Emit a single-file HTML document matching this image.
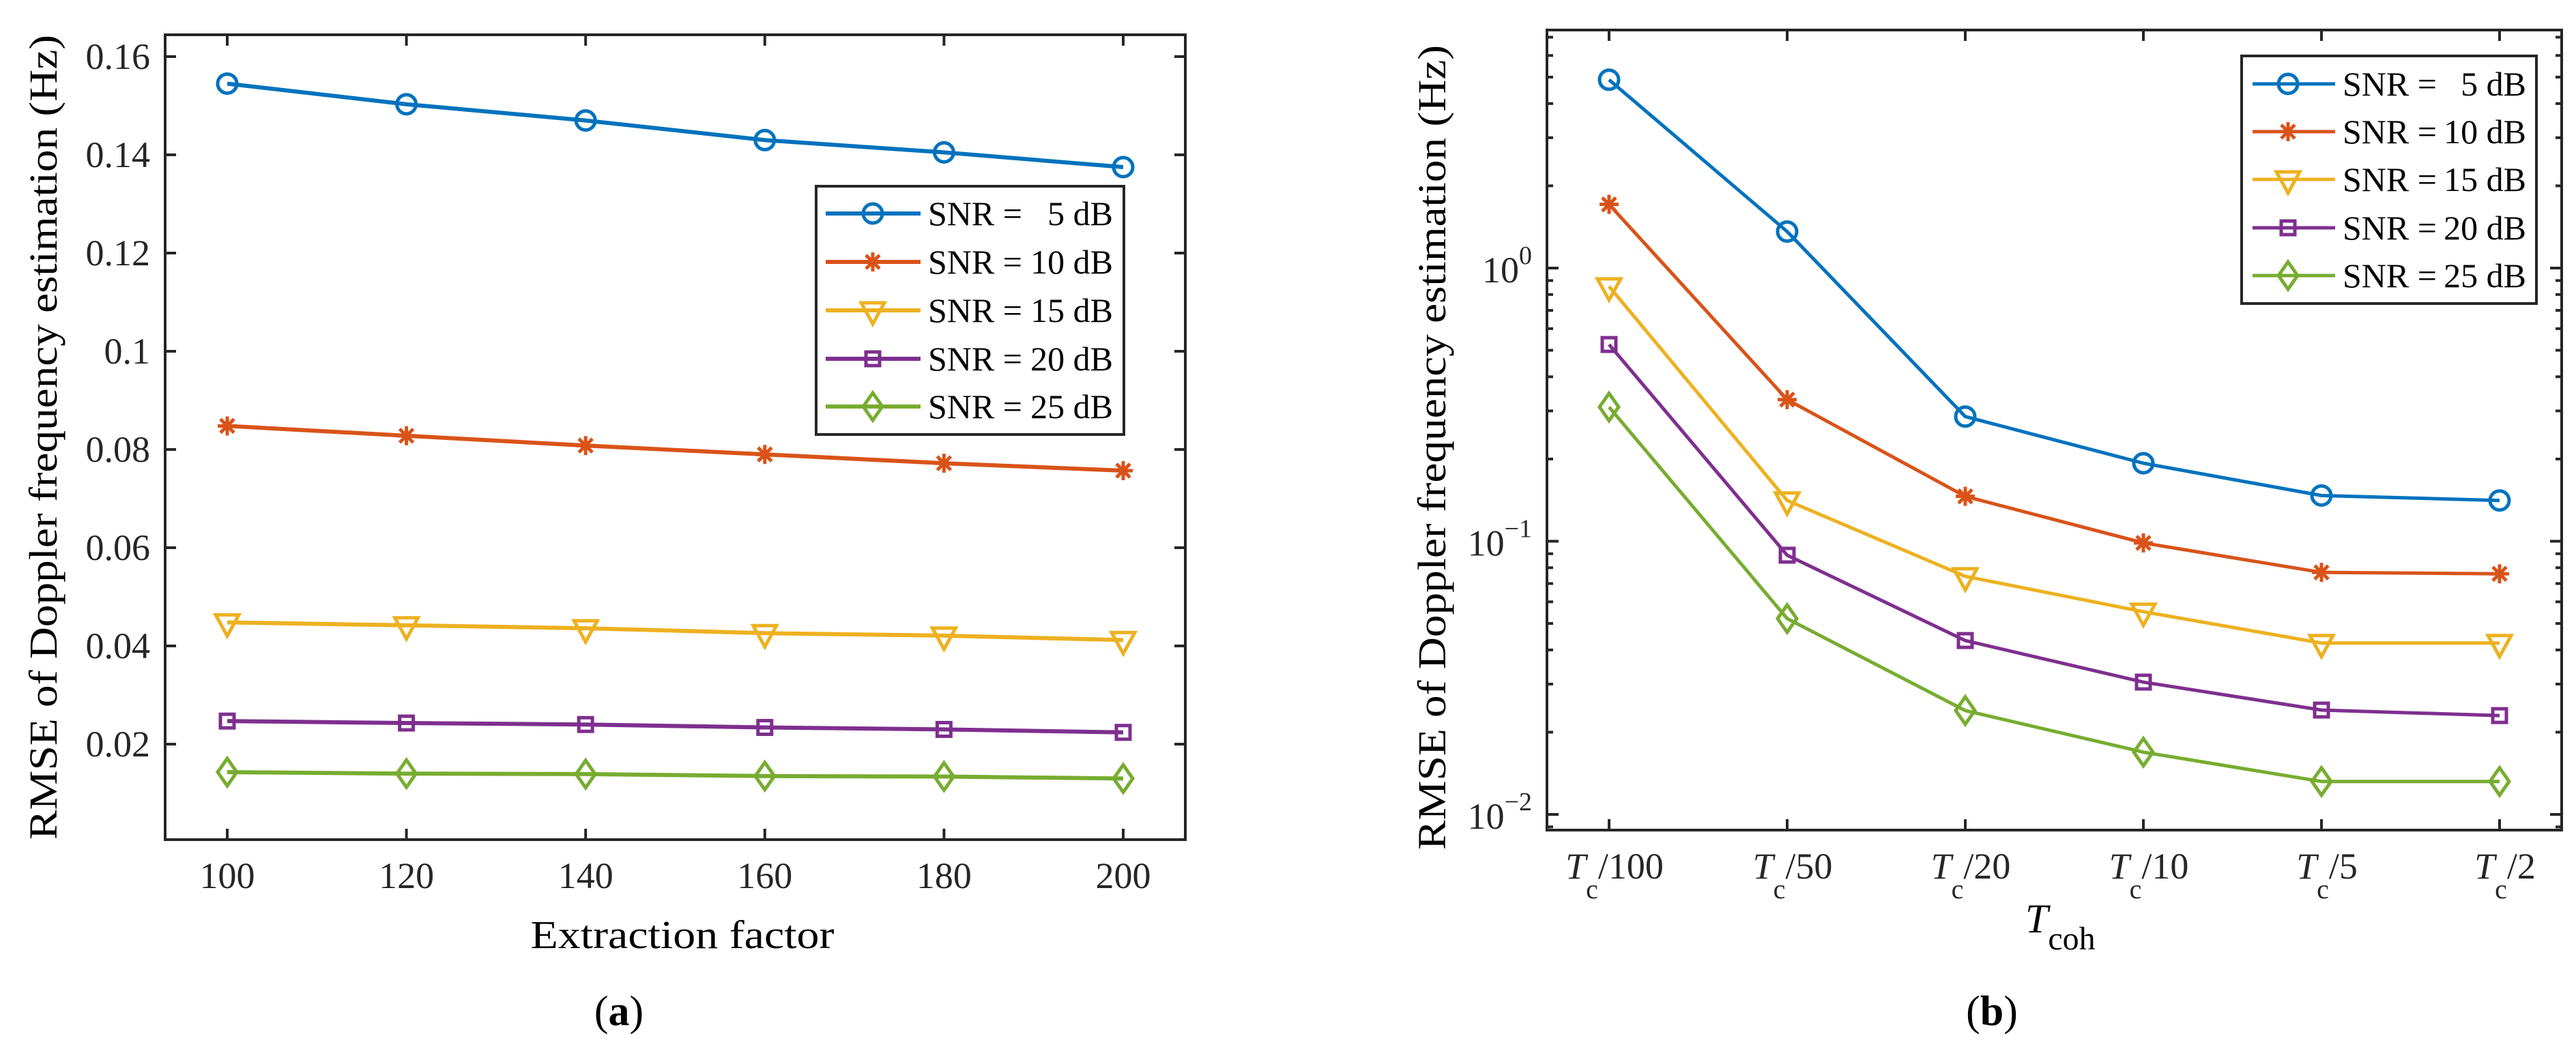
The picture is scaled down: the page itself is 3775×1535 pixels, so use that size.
<!DOCTYPE html>
<html><head><meta charset="utf-8"><style>
html,body{margin:0;padding:0;background:#fff;}
svg{display:block;font-family:"Liberation Serif",serif;}
</style></head><body>
<svg id="fig" width="3775" height="1535" viewBox="0 0 3775 1535" xmlns="http://www.w3.org/2000/svg">
<rect x="0" y="0" width="3775" height="1535" fill="#fff"/>
<g id="panelA"></g>
<g id="panelB"></g>
</svg>
<script>
// ---- Panel (a) data ----
const catsA = [100, 120, 140, 160, 180, 200];
const yTicksA = [0.02, 0.04, 0.06, 0.08, 0.1, 0.12, 0.14, 0.16];
const yTickLabelsA = ["0.02","0.04","0.06","0.08","0.1","0.12","0.14","0.16"];
const snr5A  = [0.1545, 0.1503, 0.1470, 0.1430, 0.1405, 0.1375];
const snr10A = [0.0848, 0.0828, 0.0808, 0.0790, 0.0772, 0.0757];
const snr15A = [0.0448, 0.0442, 0.0436, 0.0426, 0.0421, 0.0412];
const snr20A = [0.0247, 0.0243, 0.0240, 0.0234, 0.0230, 0.0224];
const snr25A = [0.0143, 0.0140, 0.0139, 0.0135, 0.0134, 0.0130];
// ---- Panel (b) data ----
const catsB = ["100", "50", "20", "10", "5", "2"];
const snr5B  = [4.89, 1.36, 0.286, 0.193, 0.147, 0.141];
const snr10B = [1.71, 0.330, 0.146, 0.0986, 0.0769, 0.0760];
const snr15B = [0.857, 0.141, 0.0744, 0.0552, 0.0424, 0.0424];
const snr20B = [0.525, 0.0889, 0.0433, 0.0305, 0.0241, 0.0230];
const snr25B = [0.310, 0.0521, 0.0240, 0.0169, 0.0132, 0.0132];
const yDecadesB = [-2, -1, 0];
const legendLabels = ["5", "10", "15", "20", "25"];

const NS = "http://www.w3.org/2000/svg";
const AX = "#262626";
const colors = ["#0072BD", "#D95319", "#EDB120", "#7E2F8E", "#77AC30"];
const markers = ["circle", "star", "tri", "square", "diamond"];

function mk(tag, attrs, parent) {
  const e = document.createElementNS(NS, tag);
  for (const k in attrs) e.setAttribute(k, attrs[k]);
  parent.appendChild(e);
  return e;
}
function marker(parent, type, x, y, c, sw) {
  let e;
  if (type === "circle") e = mk("circle", {cx: x, cy: y, r: 14, fill: "none", stroke: c, "stroke-width": sw}, parent);
  else if (type === "square") e = mk("rect", {x: x - 10, y: y - 10, width: 20, height: 20, fill: "none", stroke: c, "stroke-width": sw}, parent);
  else if (type === "tri") e = mk("polygon", {points: `${x-17},${y-11} ${x+17},${y-11} ${x},${y+20}`, fill: "none", stroke: c, "stroke-width": sw}, parent);
  else if (type === "diamond") e = mk("polygon", {points: `${x},${y-20} ${x+14},${y} ${x},${y+20} ${x-14},${y}`, fill: "none", stroke: c, "stroke-width": sw}, parent);
  else {
    e = mk("path", {d: `M${x-14},${y}H${x+14}M${x},${y-14}V${y+14}M${x-10},${y-10}L${x+10},${y+10}M${x+10},${y-10}L${x-10},${y+10}`, fill: "none", stroke: c, "stroke-width": sw}, parent);
  }
  
  
  return e;
}
function series(parent, xs, ys, idx, sw) {
  const g = mk("g", {}, parent);
  
  
  const pts = xs.map((x, i) => x + "," + ys[i]).join(" ");
  const pl = mk("polyline", {points: pts, fill: "none", stroke: colors[idx], "stroke-width": sw, "stroke-linejoin": "round"}, g);
  
  
  xs.forEach((x, i) => marker(g, markers[idx], x, ys[i], colors[idx], 5));
}
function legend(parent, x0, y0, x1, y1, lineX0, lineX1, markX, textX, textEnd, rowY, sw) {
  const g = mk("g", {}, parent);
  
  
  const r = mk("rect", {x: x0, y: y0, width: x1 - x0, height: y1 - y0, fill: "#fff", stroke: AX, "stroke-width": 4}, g);
  
  
  legendLabels.forEach((lab, i) => {
    const y = rowY[i];
    const eg = mk("g", {}, g);
    
    
    mk("line", {x1: lineX0, y1: y, x2: lineX1, y2: y, stroke: colors[i], "stroke-width": sw}, eg);
    marker(eg, markers[i], markX, y, colors[i], 5);
    const t1 = mk("text", {x: textX, y: y + 17, "font-size": 50, fill: "#000"}, eg);
    t1.textContent = "SNR =";
    const t2 = mk("text", {x: textEnd, y: y + 17, "font-size": 50, fill: "#000", "text-anchor": "end"}, eg);
    t2.textContent = lab + " dB";
  });
}

// ================= Panel A =================
(function () {
  const P = document.getElementById("panelA");
  const L = 242, R = 1737, T = 51, B = 1231;
  const x = v => 333 + (v - 100) / 20 * 262.6;
  const y = v => 1235 - v * 7200;
  const ax = mk("g", {}, P);
  
  
  catsA.forEach(c => {
    const X = x(c);
    mk("line", {x1: X, y1: B, x2: X, y2: B - 16, stroke: AX, "stroke-width": 4}, ax);
    mk("line", {x1: X, y1: T, x2: X, y2: T + 16, stroke: AX, "stroke-width": 4}, ax);
    const t = mk("text", {x: X, y: 1302, "font-size": 54, fill: AX, "text-anchor": "middle"}, ax);
    
    
    t.textContent = String(c);
  });
  yTicksA.forEach((v, i) => {
    const Y = y(v);
    mk("line", {x1: L, y1: Y, x2: L + 16, y2: Y, stroke: AX, "stroke-width": 4}, ax);
    mk("line", {x1: R, y1: Y, x2: R - 16, y2: Y, stroke: AX, "stroke-width": 4}, ax);
    const t = mk("text", {x: 220, y: Y + 18, "font-size": 54, fill: AX, "text-anchor": "end"}, ax);
    
    
    t.textContent = yTickLabelsA[i];
  });
  const box = mk("rect", {x: L, y: T, width: R - L, height: B - T, fill: "none", stroke: AX, "stroke-width": 4}, ax);
  
  
  const xs = catsA.map(x);
  [snr5A, snr10A, snr15A, snr20A, snr25A].forEach((s, i) => series(P, xs, s.map(y), i, 6));
  legend(P, 1196, 273, 1647, 637, 1210, 1349, 1279, 1360, 1631, [313, 384, 455, 526, 596], 6);
  const xl = mk("text", {x: 1000, y: 1390, "font-size": 58, fill: "#000", "text-anchor": "middle", textLength: 445, lengthAdjust: "spacingAndGlyphs"}, P);
  
  
  xl.textContent = "Extraction factor";
  const yl = mk("text", {x: 0, y: 0, "font-size": 58, fill: "#000", "text-anchor": "middle", transform: "translate(83,641) rotate(-90)", textLength: 1180, lengthAdjust: "spacingAndGlyphs"}, P);
  
  
  yl.textContent = "RMSE of Doppler frequency estimation (Hz)";
  const cap = mk("text", {x: 907, y: 1503, "font-size": 62, fill: "#000", "text-anchor": "middle"}, P);
  
  
  cap.innerHTML = '(<tspan font-weight="bold">a</tspan>)';
})();

// ================= Panel B =================
(function () {
  const P = document.getElementById("panelB");
  const L = 2267, R = 3754, T = 44, B = 1217;
  const x = i => 2358 + i * 261;
  const y = v => 393 - Math.log10(v) * 400.5;
  const ax = mk("g", {}, P);
  
  
  catsB.forEach((c, i) => {
    const X = x(i);
    mk("line", {x1: X, y1: B, x2: X, y2: B - 16, stroke: AX, "stroke-width": 4}, ax);
    mk("line", {x1: X, y1: T, x2: X, y2: T + 16, stroke: AX, "stroke-width": 4}, ax);
    const t = mk("text", {x: X + 8, y: 1288, "font-size": 54, fill: AX, "text-anchor": "middle"}, ax);
    
    
    t.innerHTML = '<tspan font-style="italic">T</tspan><tspan font-size="40" dy="29">c</tspan><tspan dy="-29">/' + c + '</tspan>';
  });
  const yMin = Math.pow(10, (393 - B) / 400.5), yMax = Math.pow(10, (393 - T) / 400.5);
  for (let d = -3; d <= 1; d++) {
    for (let m = 1; m <= 9; m++) {
      const v = m * Math.pow(10, d);
      if (v < yMin || v > yMax) continue;
      const Y = y(v);
      const len = m === 1 ? 17 : 9;
      mk("line", {x1: L, y1: Y, x2: L + len, y2: Y, stroke: AX, "stroke-width": 4}, ax);
      mk("line", {x1: R, y1: Y, x2: R - len, y2: Y, stroke: AX, "stroke-width": 4}, ax);
    }
  }
  yDecadesB.forEach(d => {
    const Y = y(Math.pow(10, d));
    const t = mk("text", {x: 2245, y: Y + 21, "font-size": 54, fill: AX, "text-anchor": "end"}, ax);
    
    
    t.innerHTML = '10<tspan font-size="38" dy="-27">' + (d < 0 ? '\u2212' + (-d) : d) + '</tspan>';
  });
  const box = mk("rect", {x: L, y: T, width: R - L, height: B - T, fill: "none", stroke: AX, "stroke-width": 4}, ax);
  
  
  const xs = catsB.map((c, i) => x(i));
  [snr5B, snr10B, snr15B, snr20B, snr25B].forEach((s, i) => series(P, xs, s.map(y), i, 5));
  legend(P, 3285, 82, 3717, 445, 3301, 3422, 3353, 3433, 3702, [123, 193, 263, 334, 404], 5);
  const xl = mk("text", {x: 2968, y: 1367, "font-size": 60, fill: "#000"}, P);
  
  
  xl.innerHTML = '<tspan font-style="italic">T</tspan><tspan font-size="48" dy="25">coh</tspan>';
  const yl = mk("text", {x: 0, y: 0, "font-size": 58, fill: "#000", "text-anchor": "middle", transform: "translate(2118,656) rotate(-90)", textLength: 1180, lengthAdjust: "spacingAndGlyphs"}, P);
  
  
  yl.textContent = "RMSE of Doppler frequency estimation (Hz)";
  const cap = mk("text", {x: 2919, y: 1503, "font-size": 62, fill: "#000", "text-anchor": "middle"}, P);
  
  
  cap.innerHTML = '(<tspan font-weight="bold">b</tspan>)';
})();
</script>
</body></html>
